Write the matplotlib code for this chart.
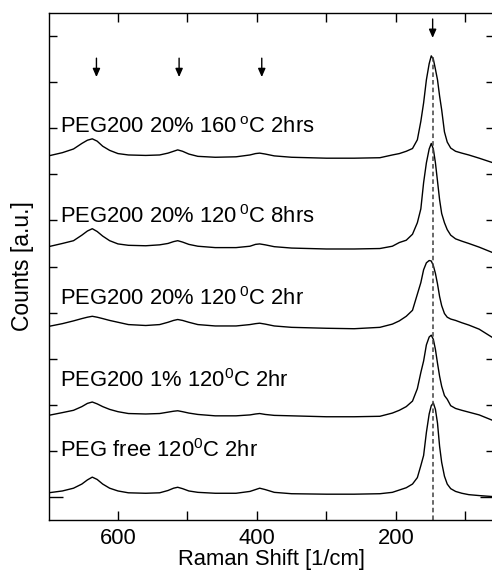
import numpy as np
import matplotlib
matplotlib.use("Agg")
import matplotlib.pyplot as plt
from matplotlib.ticker import FixedLocator, MultipleLocator

plt.rcParams['font.family'] = ['Liberation Sans', 'DejaVu Sans']
plt.rcParams['mathtext.fontset'] = 'custom'
plt.rcParams['mathtext.rm'] = 'Liberation Sans'
plt.rcParams['mathtext.it'] = 'Liberation Sans:italic'

# Raman shift grid [1/cm] (descending)
shift = [700, 680, 664, 652, 644, 637, 630, 622, 612, 600, 585, 560, 540, 528, 520,
         514, 507, 498, 485, 460, 430, 410, 402, 396, 388, 375, 350, 300, 260, 223,
         205, 195, 185, 176, 169, 164, 160, 156, 152, 149, 146, 143, 140, 137, 134,
         130, 126, 121, 114, 105, 95, 80, 62]

# stacked spectra (already offset), bottom to top
peg_free = [0.09, 0.13, 0.19, 0.28, 0.37, 0.43, 0.38, 0.28, 0.19, 0.13, 0.09, 0.08, 0.09, 0.14, 0.19,
            0.21, 0.18, 0.13, 0.10, 0.08, 0.08, 0.12, 0.16, 0.19, 0.16, 0.10, 0.07, 0.06, 0.06, 0.07,
            0.10, 0.15, 0.20, 0.28, 0.42, 0.68, 0.90, 1.40, 1.80, 1.98, 2.04, 1.90, 1.60, 1.10, 0.75,
            0.45, 0.28, 0.18, 0.12, 0.08, 0.05, 0.03, 0.01]
peg1_120_2 = [1.77, 1.83, 1.88, 1.96, 2.03, 2.06, 2.02, 1.96, 1.90, 1.85, 1.81, 1.80, 1.81, 1.84, 1.86,
              1.87, 1.85, 1.82, 1.79, 1.76, 1.76, 1.78, 1.80, 1.81, 1.79, 1.77, 1.76, 1.74, 1.74, 1.75,
              1.82, 1.88, 1.96, 2.08, 2.35, 2.70, 2.95, 3.30, 3.47, 3.51, 3.42, 3.20, 2.90, 2.62, 2.40,
              2.20, 2.12, 1.98, 1.92, 1.88, 1.84, 1.78, 1.67]
peg20_120_2 = [3.70, 3.76, 3.82, 3.87, 3.90, 3.92, 3.90, 3.87, 3.83, 3.79, 3.74, 3.72, 3.74, 3.79, 3.83,
               3.85, 3.83, 3.79, 3.74, 3.71, 3.71, 3.74, 3.76, 3.77, 3.75, 3.71, 3.68, 3.66, 3.65, 3.68,
               3.75, 3.82, 3.92, 4.05, 4.40, 4.65, 4.93, 5.08, 5.13, 5.12, 5.02, 4.85, 4.62, 4.35, 4.15,
               3.98, 3.90, 3.86, 3.83, 3.78, 3.73, 3.64, 3.47]
peg20_120_8 = [5.43, 5.50, 5.56, 5.68, 5.77, 5.82, 5.76, 5.66, 5.56, 5.49, 5.46, 5.45, 5.47, 5.50, 5.54,
               5.56, 5.53, 5.48, 5.44, 5.41, 5.41, 5.44, 5.48, 5.49, 5.47, 5.43, 5.40, 5.38, 5.38, 5.39,
               5.44, 5.52, 5.57, 5.70, 5.95, 6.25, 6.82, 7.25, 7.55, 7.67, 7.55, 7.25, 6.85, 6.45, 6.15,
               5.95, 5.80, 5.68, 5.60, 5.55, 5.50, 5.42, 5.31]
peg20_160_2 = [7.40, 7.47, 7.55, 7.67, 7.74, 7.77, 7.72, 7.61, 7.52, 7.45, 7.42, 7.41, 7.42, 7.46, 7.50,
               7.53, 7.50, 7.44, 7.39, 7.37, 7.38, 7.42, 7.45, 7.46, 7.44, 7.40, 7.37, 7.35, 7.35, 7.36,
               7.42, 7.45, 7.50, 7.56, 7.75, 8.15, 8.55, 9.05, 9.40, 9.57, 9.50, 9.28, 9.05, 8.70, 8.40,
               7.92, 7.70, 7.57, 7.50, 7.46, 7.42, 7.35, 7.26]

spectra = [peg_free, peg1_120_2, peg20_120_2, peg20_120_8, peg20_160_2]
labels = ["PEG free 120$^{\\rm 0}$C 2hr",
          "PEG200 1% 120$^{\\rm 0}$C 2hr",
          "PEG200 20% 120$\\,^{\\rm 0}$C 2hr",
          "PEG200 20% 120$\\,^{\\rm 0}$C 8hrs",
          "PEG200 20% 160$\\,^{\\rm o}$C 2hrs"]
label_y = [0.87, 2.38, 4.16, 5.95, 7.90]

# marked anatase bands
arrow_x = [631, 512, 393, 147]
arrow_top = [9.52, 9.52, 9.52, 10.37]
arrow_tip = [9.11, 9.11, 9.11, 9.96]
dash_x = 147

fs = 15.8

fig = plt.figure(figsize=(4.92, 5.73), dpi=100)
ax = fig.add_axes([0.0986, 0.0925, 0.905, 0.8848])

for y in spectra:
    ax.plot(shift, y, color='black', lw=1.0)

ax.plot([dash_x, dash_x], [-0.5, max(peg20_160_2)], color='#404040', lw=1.1,
        linestyle=(0, (3, 2)))

for lab, ly in zip(labels, label_y):
    ax.text(684, ly, lab, fontsize=fs, ha='left', va='baseline')

for xa, yt, yp in zip(arrow_x, arrow_top, arrow_tip):
    ax.annotate('', xy=(xa, yp), xytext=(xa, yt),
                arrowprops=dict(arrowstyle='-|>,head_length=0.5,head_width=0.22',
                                color='black', lw=1.0, shrinkA=0, shrinkB=0))

ax.set_xlim(700, 59)
ax.set_ylim(-0.5, 10.5)

ax.xaxis.set_major_locator(FixedLocator([600, 400, 200]))
ax.xaxis.set_minor_locator(FixedLocator([500, 300, 100]))
ax.yaxis.set_major_locator(FixedLocator([0]))
ax.yaxis.set_minor_locator(FixedLocator(list(range(1, 11))))
ax.set_yticklabels([])

ax.tick_params(axis='x', which='both', direction='in', top=True, length=6.5, width=1.0,
               labelsize=fs, pad=6)
ax.tick_params(axis='y', which='major', direction='in', right=True, length=10, width=1.0)
ax.tick_params(axis='y', which='minor', direction='in', right=True, length=5.5, width=1.0)

for s in ax.spines.values():
    s.set_linewidth(1.0)

ax.set_xlabel('Raman Shift [1/cm]', fontsize=fs, labelpad=0)
ax.set_ylabel('Counts [a.u.]', fontsize=16.5, labelpad=7)

fig.savefig('out.png', dpi=100)
